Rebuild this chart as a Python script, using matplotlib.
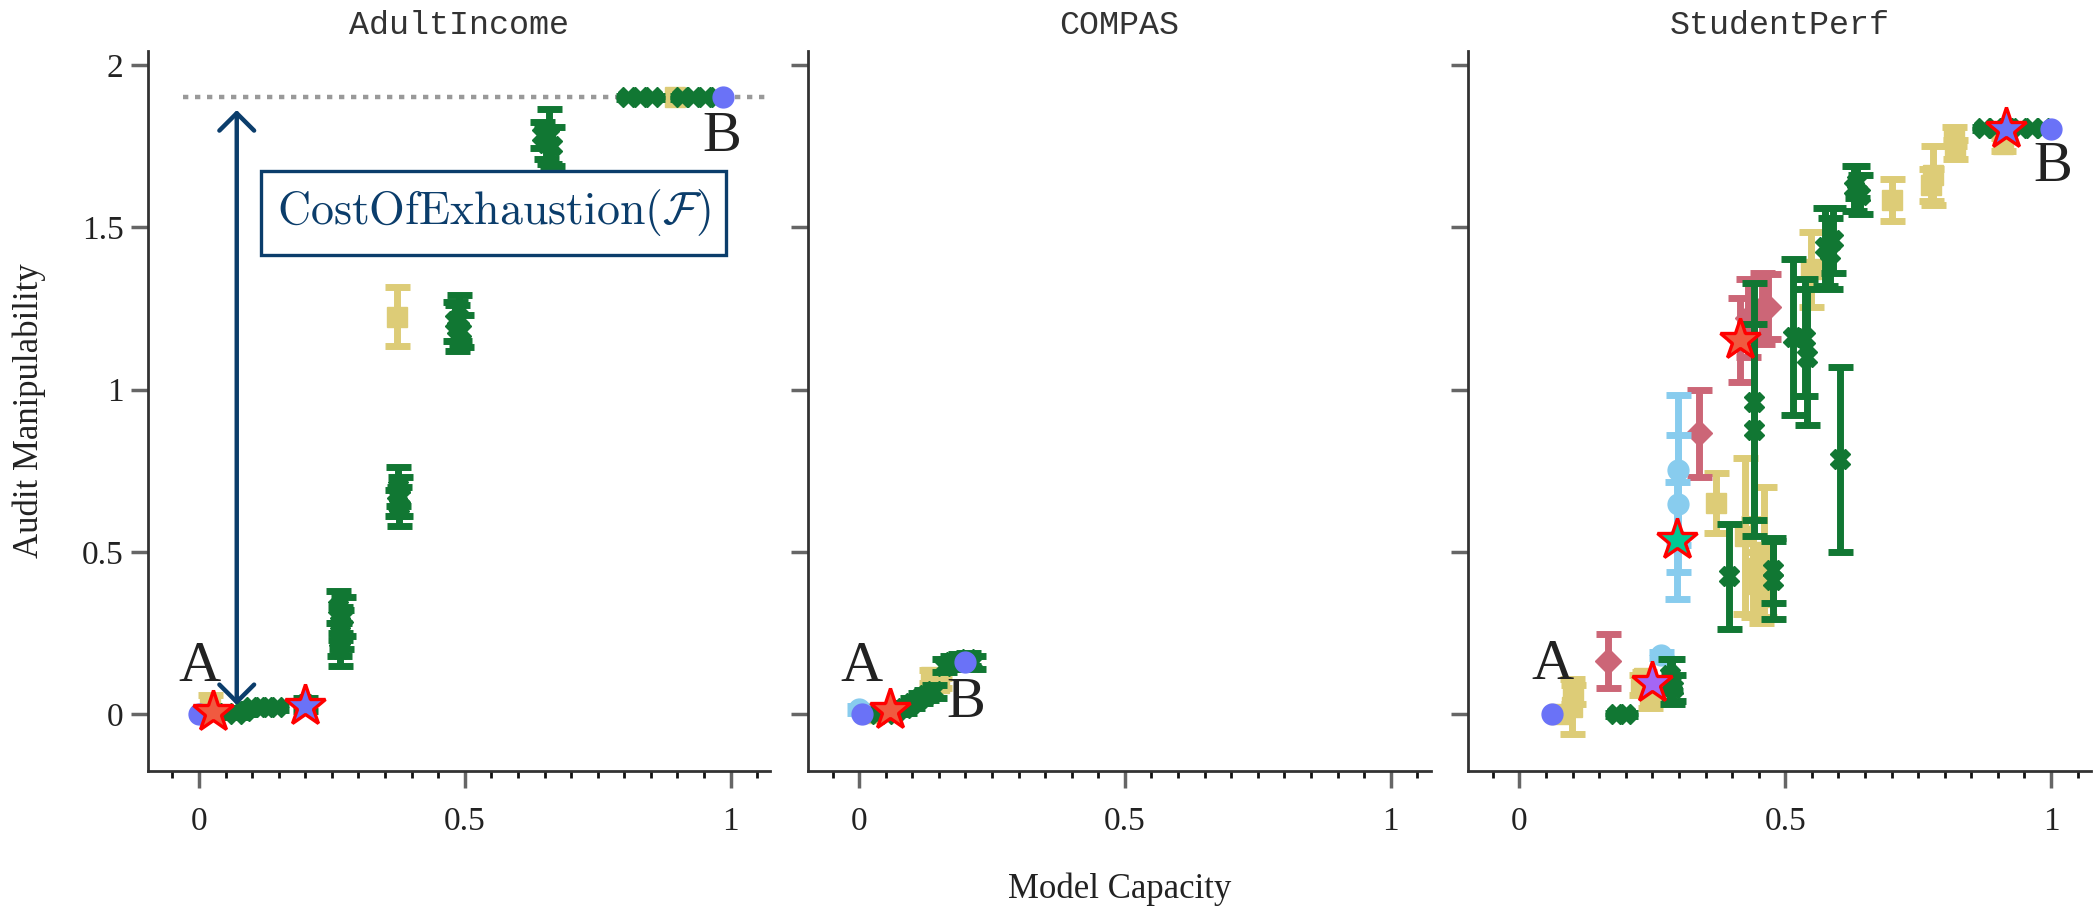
import matplotlib
matplotlib.use("Agg")
import matplotlib.pyplot as plt
from matplotlib.ticker import FixedLocator, FixedFormatter, MultipleLocator

# ---------------------------------------------------------------- data
panel_titles = ["AdultIncome", "COMPAS", "StudentPerf"]
x_ticks = [0, 0.5, 1]
x_tick_labels = ["0", "0.5", "1"]
y_ticks = [0, 0.5, 1, 1.5, 2]
y_tick_labels = ["0", "0.5", "1", "1.5", "2"]
exhaustion_level = 1.9

# AdultIncome
adult_circle_x = [0.0, 0.985]
adult_circle_y = [0.0, 1.9]
adult_sand_x = [0.02, 0.373, 0.895]
adult_sand_y = [0.03, 1.225, 1.9]
adult_sand_err = [0.03, 0.09, 0.005]
adult_green_x = [0.05, 0.07, 0.085, 0.10, 0.115, 0.13, 0.145, 0.20,
                 0.262, 0.27, 0.265, 0.268, 0.263, 0.266,
                 0.374, 0.378, 0.372, 0.377,
                 0.482, 0.49, 0.486, 0.492,
                 0.659, 0.645, 0.652, 0.665,
                 0.807, 0.83, 0.852, 0.908, 0.93, 0.952, 0.974]
adult_green_y = [0.005, 0.0, 0.01, 0.022, 0.022, 0.022, 0.022, 0.03,
                 0.33, 0.30, 0.28, 0.26, 0.23, 0.20,
                 0.70, 0.67, 0.65, 0.64,
                 1.21, 1.22, 1.19, 1.18,
                 1.78, 1.785, 1.76, 1.75,
                 1.9, 1.9, 1.9, 1.9, 1.9, 1.9, 1.9]
adult_green_err = [0.01, 0.01, 0.01, 0.01, 0.01, 0.01, 0.01, 0.02,
                   0.05, 0.06, 0.05, 0.06, 0.05, 0.05,
                   0.06, 0.06, 0.04, 0.06,
                   0.06, 0.07, 0.07, 0.05,
                   0.085, 0.04, 0.05, 0.06,
                   0.004, 0.004, 0.004, 0.004, 0.004, 0.004, 0.004]
adult_star_x = [0.027, 0.199]
adult_star_y = [0.008, 0.025]

# COMPAS
compas_circle_x = [0.005, 0.2]
compas_circle_y = [0.0, 0.16]
compas_lightblue_x = [0.0]
compas_lightblue_y = [0.015]
compas_lightblue_err = [0.01]
compas_sand_x = [0.015, 0.135, 0.15]
compas_sand_y = [0.005, 0.115, 0.095]
compas_sand_err = [0.01, 0.02, 0.015]
compas_green_x = [0.035, 0.05, 0.07, 0.085, 0.10, 0.115, 0.125, 0.14,
                  0.16, 0.175, 0.19, 0.205, 0.215]
compas_green_y = [0.0, 0.0, 0.01, 0.02, 0.035, 0.05, 0.06, 0.07,
                  0.15, 0.16, 0.165, 0.17, 0.16]
compas_green_err = [0.01, 0.01, 0.01, 0.015, 0.015, 0.015, 0.015, 0.02,
                    0.02, 0.02, 0.02, 0.02, 0.02]
compas_star_x = [0.058]
compas_star_y = [0.012]

# StudentPerf
student_circle_x = [0.0615, 1.0]
student_circle_y = [0.0, 1.802]
student_lightblue_x = [0.267, 0.298, 0.298, 0.296]
student_lightblue_y = [0.182, 0.752, 0.649, 0.536]
student_lightblue_err = [0.01, 0.231, 0.21, 0.18]
student_rose_x = [0.166, 0.337, 0.414, 0.43, 0.456, 0.468]
student_rose_y = [0.163, 0.865, 1.153, 1.22, 1.25, 1.255]
student_rose_err = [0.083, 0.133, 0.129, 0.12, 0.11, 0.10]
student_sand_x = [0.075, 0.099, 0.1, 0.228, 0.245, 0.235, 0.37,
                  0.425, 0.44, 0.45, 0.455, 0.46,
                  0.548, 0.70, 0.778, 0.775, 0.818, 0.82, 0.91]
student_sand_y = [0.0, 0.0225, 0.06, 0.09, 0.06, 0.11, 0.65,
                  0.55, 0.45, 0.40, 0.36, 0.50,
                  1.37, 1.585, 1.66, 1.63, 1.78, 1.74, 1.755]
student_sand_err = [0.01, 0.085, 0.03, 0.03, 0.04, 0.02, 0.093,
                    0.24, 0.15, 0.10, 0.08, 0.20,
                    0.115, 0.065, 0.09, 0.05, 0.03, 0.03, 0.02]
student_green_x = [0.183, 0.199, 0.284, 0.286, 0.288, 0.395, 0.442, 0.442,
                   0.477, 0.477, 0.515, 0.537, 0.54, 0.575, 0.585, 0.59,
                   0.603, 0.63, 0.64, 0.635,
                   0.873, 0.895, 0.918, 0.942, 0.964, 0.985]
student_green_y = [0.0, 0.0, 0.12, 0.10, 0.08, 0.425, 0.962, 0.876,
                   0.444, 0.413, 1.163, 1.16, 1.10, 1.44, 1.42, 1.46,
                   0.786, 1.62, 1.60, 1.64,
                   1.805, 1.805, 1.805, 1.805, 1.805, 1.805]
student_green_err = [0.005, 0.005, 0.05, 0.07, 0.04, 0.162, 0.365, 0.326,
                     0.10, 0.12, 0.24, 0.18, 0.21, 0.12, 0.11, 0.10,
                     0.285, 0.07, 0.06, 0.05,
                     0.005, 0.005, 0.005, 0.005, 0.005, 0.005]
student_star_x = [0.25, 0.296, 0.414, 0.915]
student_star_y = [0.095, 0.536, 1.153, 1.804]

# A / B endpoint labels: (x, y) per panel
label_a_pos = [(0.0, 0.146), (0.005, 0.144), (0.0615, 0.151)]
label_b_pos = [(0.983, 1.779), (0.2, 0.036), (1.0025, 1.686)]

# ---------------------------------------------------------------- style
SAND = "#DDCC77"
GREEN = "#117733"
ROSE = "#CC6677"
LIGHTBLUE = "#88CCEE"
BLUE = "#6A72F7"
NAVY = "#0B3D6B"
STAR_EDGE = "#FF0000"
adult_star_fill = ["#F05A40", BLUE]
compas_star_fill = ["#F05A40"]
student_star_fill = ["#A466F5", "#00C994", "#F05A40", BLUE]

plt.rcParams["font.family"] = ["Liberation Serif", "DejaVu Serif"]
plt.rcParams["mathtext.fontset"] = "cm"
plt.rcParams["axes.linewidth"] = 2.0
plt.rcParams["axes.edgecolor"] = "#333333"

XLIM = (-0.096, 1.075)
YLIM = (-0.175, 2.043)

fig = plt.figure(figsize=(20.93, 9.09), dpi=100)
ax_w, ax_h, ax_b = 0.2974, 0.7921, 0.1518
lefts = [0.0707, 0.3861, 0.7016]
axes = [fig.add_axes([l, ax_b, ax_w, ax_h]) for l in lefts]

eb_kw = dict(ls="none", elinewidth=5, capsize=9, capthick=5)


def draw_series(ax, x, y, err, color, marker, ms, z):
    ax.errorbar(x, y, yerr=err, fmt=marker, color=color, ms=ms,
                zorder=z, **eb_kw)


panels = [
    dict(sand=(adult_sand_x, adult_sand_y, adult_sand_err),
         rose=None, light=None,
         green=(adult_green_x, adult_green_y, adult_green_err),
         circle=(adult_circle_x, adult_circle_y),
         star=(adult_star_x, adult_star_y, adult_star_fill)),
    dict(sand=(compas_sand_x, compas_sand_y, compas_sand_err),
         rose=None,
         light=(compas_lightblue_x, compas_lightblue_y, compas_lightblue_err),
         green=(compas_green_x, compas_green_y, compas_green_err),
         circle=(compas_circle_x, compas_circle_y),
         star=(compas_star_x, compas_star_y, compas_star_fill)),
    dict(sand=(student_sand_x, student_sand_y, student_sand_err),
         rose=(student_rose_x, student_rose_y, student_rose_err),
         light=(student_lightblue_x, student_lightblue_y, student_lightblue_err),
         green=(student_green_x, student_green_y, student_green_err),
         circle=(student_circle_x, student_circle_y),
         star=(student_star_x, student_star_y, student_star_fill)),
]

for i, (ax, p) in enumerate(zip(axes, panels)):
    if p["sand"]:
        draw_series(ax, *p["sand"], SAND, "s", 14, 2)
    if p["rose"]:
        draw_series(ax, *p["rose"], ROSE, "D", 13, 3)
    if p["light"]:
        draw_series(ax, *p["light"], LIGHTBLUE, "o", 15, 4)
    if p["green"]:
        draw_series(ax, *p["green"], GREEN, "X", 14, 5)
    cx, cy = p["circle"]
    ax.plot(cx, cy, "o", color=BLUE, ms=15, ls="none", zorder=6)
    sx, sy, sf = p["star"]
    for xs, ys, fc in zip(sx, sy, sf):
        ax.plot([xs], [ys], marker="*", ms=31, mfc=fc, mec=STAR_EDGE,
                mew=2.4, ls="none", zorder=8)

    ax.text(*label_a_pos[i], "A", fontsize=42, ha="center", va="center",
            color="#222222", zorder=9)
    ax.text(*label_b_pos[i], "B", fontsize=42, ha="center", va="center",
            color="#222222", zorder=9)

    ax.set_xlim(*XLIM)
    ax.set_ylim(*YLIM)
    ax.spines["top"].set_visible(False)
    ax.spines["right"].set_visible(False)

    ax.xaxis.set_major_locator(FixedLocator(x_ticks))
    ax.xaxis.set_major_formatter(FixedFormatter(x_tick_labels))
    ax.xaxis.set_minor_locator(MultipleLocator(0.05))
    ax.yaxis.set_major_locator(FixedLocator(y_ticks))
    if i == 0:
        ax.yaxis.set_major_formatter(FixedFormatter(y_tick_labels))
    else:
        ax.yaxis.set_major_formatter(FixedFormatter([""] * len(y_ticks)))

    ax.tick_params(axis="x", which="major", direction="out", length=12.5,
                   width=2.5, color="#666666", labelsize=24,
                   labelcolor="#222222", pad=13)
    ax.tick_params(axis="x", which="minor", direction="out", length=5,
                   width=2.0, color="#111111")
    ax.tick_params(axis="y", which="major", direction="out", length=12.5,
                   width=2.5, color="#666666", labelsize=24,
                   labelcolor="#222222", pad=5)

    ax.set_title(panel_titles[i], family=["Liberation Mono", "DejaVu Sans Mono"],
                 fontsize=24, pad=12, color="#333333")

# exhaustion level and its distance from A
ax0 = axes[0]
ax0.hlines(exhaustion_level, -0.03, 1.07, colors="#999999",
           linestyles=(0, (1.2, 1.5)), lw=3.2, zorder=1)
ax0.annotate("", xy=(0.071, 0.028), xytext=(0.071, 1.861),
             arrowprops=dict(arrowstyle="<->,head_length=0.5,head_width=0.5",
                             color=NAVY, lw=3.2, shrinkA=0, shrinkB=0,
                             mutation_scale=25),
             zorder=7)
ax0.text(0.554, 1.544, r"$\mathrm{CostOfExhaustion}(\mathcal{F})$",
         fontsize=33, color=NAVY, ha="center", va="center", zorder=10,
         bbox=dict(boxstyle="square,pad=0.35", fc="white", ec=NAVY, lw=2.4))

ax0.set_ylabel("Audit Manipulability", fontsize=25, color="#222222")
ax0.yaxis.set_label_coords(-0.164, 0.5)

fig.text(1120 / 2093, 11 / 909, "Model Capacity", ha="center",
         va="baseline", fontsize=25, color="#222222")

fig.savefig("out.png", dpi=100)
